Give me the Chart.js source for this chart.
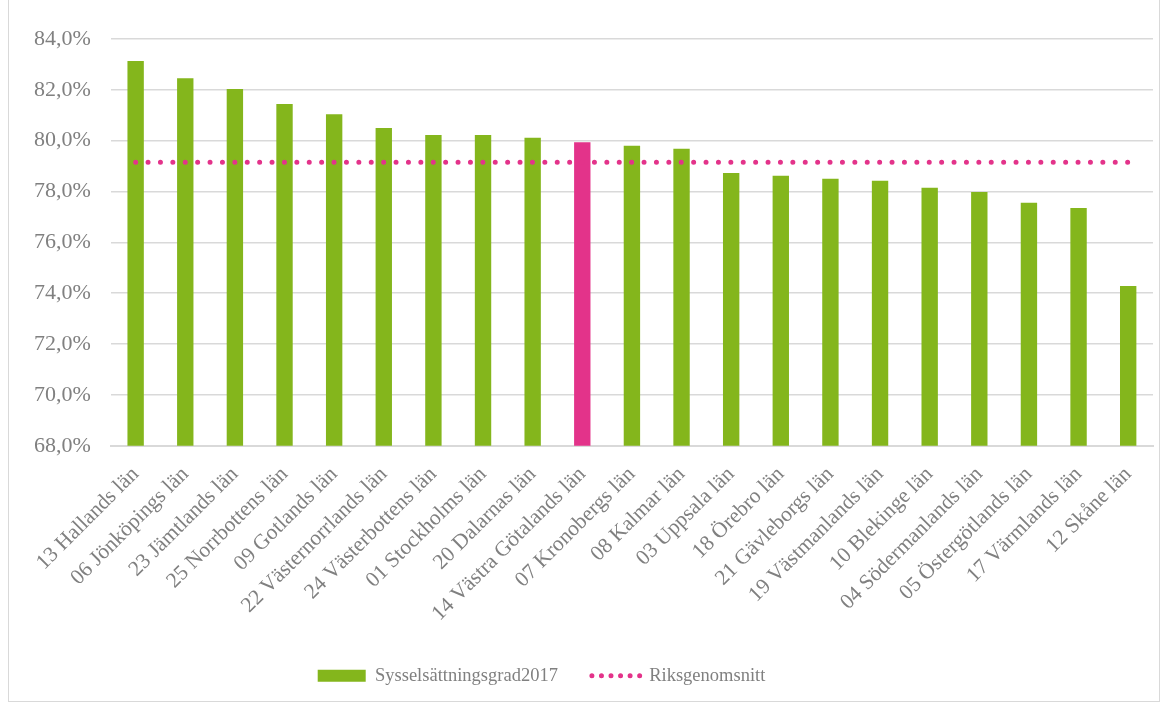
<!DOCTYPE html>
<html>
<head>
<meta charset="utf-8">
<script src="https://cdn.jsdelivr.net/npm/chart.js@4"></script>
<style>
  html, body { margin: 0; padding: 0; background: #fff; }
  .frame { position: absolute; left: 8px; top: -2px; width: 1152px; height: 704px; border: 1px solid #d9d9d9; box-sizing: border-box; }
  #chart { position: absolute; left: 0; top: 0; }
</style>
</head>
<body>
<div class="frame"></div>
<canvas id="chart" width="1167" height="704"></canvas>
<script>
  const categories = [
    "13 Hallands län", "06 Jönköpings län", "23 Jämtlands län", "25 Norrbottens län",
    "09 Gotlands län", "22 Västernorrlands län", "24 Västerbottens län", "01 Stockholms län",
    "20 Dalarnas län", "14 Västra Götalands län", "07 Kronobergs län", "08 Kalmar län",
    "03 Uppsala län", "18 Örebro län", "21 Gävleborgs län", "19 Västmanlands län",
    "10 Blekinge län", "04 Södermanlands län", "05 Östergötlands län", "17 Värmlands län",
    "12 Skåne län"
  ];
  const employmentRate = [
    83.13, 82.46, 82.03, 81.44, 81.04, 80.50, 80.22, 80.22, 80.12, 79.94, 79.80,
    79.68, 78.73, 78.62, 78.50, 78.42, 78.15, 77.98, 77.56, 77.35, 74.28
  ];
  const nationalAverage = 79.15;
  const highlighted = "14 Västra Götalands län";
  const yTicks = [68, 70, 72, 74, 76, 78, 80, 82, 84];

  const green = "#84b61c";
  const pink = "#e3338a";
  const textGrey = "#808080";
  const font = "'Liberation Serif', 'DejaVu Serif', serif";

  const barColors = categories.map((c) => (c === highlighted ? pink : green));

  // the legend sits a bit left of centre in the original
  const legendShift = {
    id: "legendShift",
    afterLayout(chart) {
      chart.legend.left -= 42;
      chart.legend.right -= 42;
    }
  };

  new Chart(document.getElementById("chart"), {
    type: "bar",
    data: {
      labels: categories,
      datasets: [
        {
          type: "line",
          label: "Riksgenomsnitt",
          data: categories.map(() => nationalAverage),
          borderColor: pink,
          backgroundColor: pink,
          borderWidth: 5,
          borderDash: [0, 12.4],
          borderCapStyle: "round",
          pointRadius: 0,
          pointStyle: "line",
          order: 0
        },
        {
          label: "Sysselsättningsgrad2017",
          data: employmentRate,
          backgroundColor: barColors,
          borderWidth: 0,
          barPercentage: 0.33,
          categoryPercentage: 1,
          pointStyle: "rect",
          order: 1
        }
      ]
    },
    options: {
      responsive: false,
      animation: false,
      layout: { padding: { left: 14, right: 14, top: 39, bottom: 9 } },
      scales: {
        x: {
          grid: { display: false },
          border: { color: "#d9d9d9", width: 2 },
          afterFit: (axis) => {
            axis.height -= 2;
          },
          ticks: {
            color: textGrey,
            font: { family: font, size: 21.5 },
            minRotation: 45,
            maxRotation: 45,
            padding: 8
          }
        },
        y: {
          min: 68,
          max: 84,
          afterBuildTicks: (axis) => {
            axis.ticks = yTicks.map((v) => ({ value: v }));
          },
          grid: { color: "#d9d9d9", lineWidth: 1.5, drawTicks: false },
          border: { display: false },
          ticks: {
            color: textGrey,
            font: { family: font, size: 22 },
            padding: 20,
            callback: (v) => v.toFixed(1).replace(".", ",") + "%"
          }
        }
      },
      plugins: {
        tooltip: { enabled: false },
        legend: {
          position: "bottom",
          reverse: true,
          labels: {
            usePointStyle: true,
            pointStyleWidth: 48,
            boxHeight: 12,
            padding: 34,
            color: textGrey,
            font: { family: font, size: 18.5 },
            generateLabels: (chart) => {
              const items = Chart.defaults.plugins.legend.labels.generateLabels(chart);
              items.forEach((item) => {
                const ds = chart.data.datasets[item.datasetIndex];
                if (ds.type === "line") {
                  item.lineDash = [0, 9.55];
                  item.lineCap = "round";
                  item.lineWidth = 5;
                }
              });
              return items;
            }
          }
        }
      }
    },
    plugins: [legendShift]
  });
</script>
</body>
</html>
